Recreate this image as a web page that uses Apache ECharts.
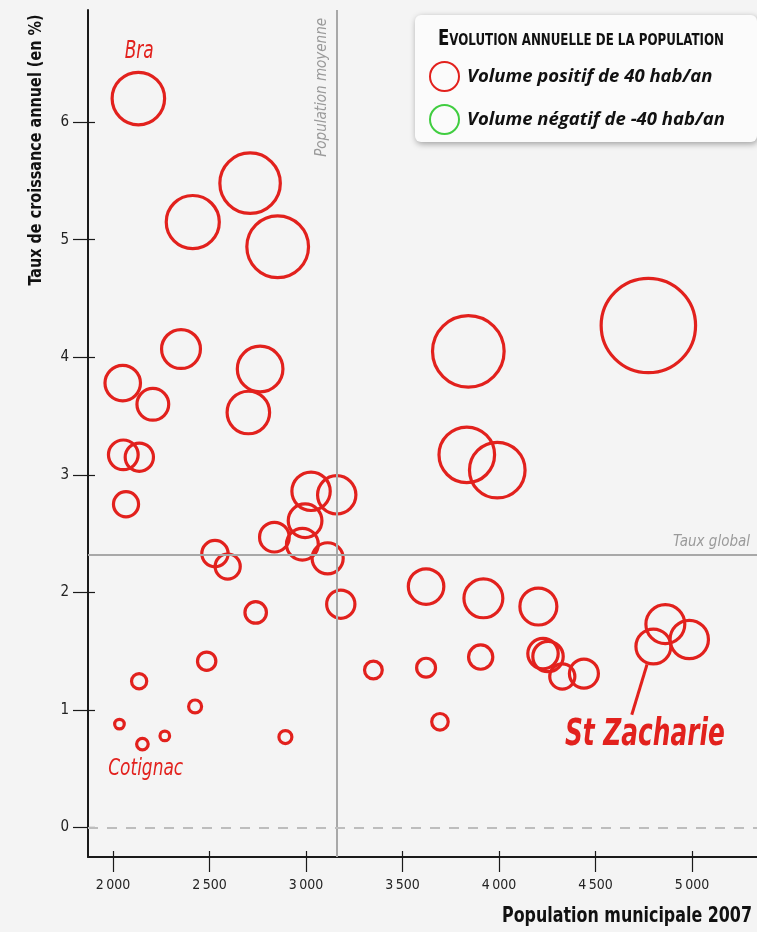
<!DOCTYPE html>
<html><head><meta charset="utf-8">
<script src="https://cdn.jsdelivr.net/npm/echarts@6/dist/echarts.min.js"></script>
<style>html,body{margin:0;padding:0;background:#f4f4f4}#c{width:757px;height:932px}</style>
</head><body><div id="c"></div>
<script>
// Population municipale 2007 (x), taux de croissance annuel en % (y), volume annuel hab/an (bubble)
const population = [2131,2710,2413,2853,2352,2050,2206,2762,2701,2053,2136,2067,3026,3159,2995,2836,2981,3112,2528,2594,2739,3180,3841,4774,3833,3991,3622,3919,4204,4228,4254,4328,4440,3905,3622,3349,3694,4862,4986,4800,2485,2135,2425,2033,2152,2268,2893];
const growthRate = [6.20,5.48,5.15,4.94,4.07,3.78,3.60,3.90,3.53,3.17,3.15,2.75,2.86,2.83,2.61,2.47,2.41,2.29,2.33,2.22,1.83,1.90,4.05,4.27,3.17,3.04,2.05,1.95,1.88,1.48,1.455,1.285,1.31,1.45,1.36,1.34,0.90,1.73,1.60,1.54,1.415,1.245,1.03,0.88,0.71,0.78,0.77];
const volume = [131,174,134,181,72,60,48,99,86,42,38,30,70,70,54,42,48,46,33,30,22,38,244,424,147,147,60,72,65,44,44,30,40,28,17,15,13,72,70,58,16,11,8,4.4,6.4,4.4,8];
const xTicks = [2000,2500,3000,3500,4000,4500,5000];
const yTicks = [0,1,2,3,4,5,6];
const meanPopulation = 3161;
const globalRate = 2.32;
const legendVolume = 40;
const legendNames = ['Volume positif de 40 hab/an','Volume négatif de -40 hab/an'];
const annotationNames = ['Bra','Cotignac','St Zacharie'];
const annotationX = [2135,2169,4756];
const annotationY = [6.60,0.494,0.78];
const pointerFrom = [4767,1.387];
const pointerTo = [4688,0.96];

const RED = '#e2211d', GREEN = '#12c212';
const COND = "'DejaVu Sans Condensed'";
const NARROW = "'Liberation Sans Narrow','DejaVu Sans Condensed',sans-serif";
const X_MIN = 1870, X_MAX = 5337, Y_MIN = -0.25, Y_MAX = 6.953;

const bubbles = population.map((p,i)=>[p, growthRate[i], volume[i]]);
const sizeOf = v => 29*Math.sqrt(v/legendVolume);
const fmt = v => String(v).replace(/(\d)(\d{3})$/,'$1\u2009$2');

const ctx = document.createElement('canvas').getContext('2d');
function textW(text, style, weight, size, fam){ ctx.font = `${style} ${weight} ${size}px ${fam}`; return ctx.measureText(text).width; }
function fit(target, w){ return target / w; }

const titleW = textW('E','normal','bold',21,COND) + textW('VOLUTION ANNUELLE DE LA POPULATION','normal','bold',15,COND);
const yTitle = 'Taux de croissance annuel (en %)';
const xTitle = 'Population municipale 2007';

const chart = echarts.init(document.getElementById('c'));
chart.setOption({
  backgroundColor:'#f4f4f4',
  animation:false,
  grid:{left:88, right:0, top:10, bottom:75, containLabel:false},
  xAxis:[{
    type:'value', min:X_MIN, max:X_MAX,
    axisLine:{show:true, onZero:false, lineStyle:{color:'#1a1a1a', width:2}},
    axisTick:{show:true, length:15, customValues:xTicks, lineStyle:{color:'#1a1a1a', width:1.2}},
    axisLabel:{customValues:xTicks, formatter:fmt, margin:21, color:'#222', fontSize:14, fontFamily:NARROW},
    splitLine:{show:false}
  },{
    type:'value', min:X_MIN, max:X_MAX, position:'bottom',
    axisLine:{show:false, onZero:false}, axisLabel:{show:false}, splitLine:{show:false},
    axisTick:{show:true, inside:true, length:6, customValues:xTicks, lineStyle:{color:'#1a1a1a', width:1.2}}
  }],
  yAxis:[{
    type:'value', min:Y_MIN, max:Y_MAX,
    axisLine:{show:true, onZero:false, lineStyle:{color:'#1a1a1a', width:2}},
    axisTick:{show:true, length:15, customValues:yTicks, lineStyle:{color:'#1a1a1a', width:1.2}},
    axisLabel:{customValues:yTicks, margin:19, color:'#222', fontSize:15, fontFamily:NARROW},
    splitLine:{show:false}
  },{
    type:'value', min:Y_MIN, max:Y_MAX, position:'left',
    axisLine:{show:false, onZero:false}, axisLabel:{show:false}, splitLine:{show:false},
    axisTick:{show:true, inside:true, length:7, customValues:yTicks, lineStyle:{color:'#1a1a1a', width:1.2}}
  }],
  legend:{
    orient:'vertical', left:429, top:61, itemWidth:29, itemHeight:29, itemGap:12,
    padding:0, icon:'circle', z:10, selectedMode:false,
    data:legendNames,
    textStyle:{fontFamily:"'Open Sans'", fontWeight:'bold', fontStyle:'italic', fontSize:18.5, color:'#111', padding:[0,0,0,3]}
  },
  graphic:[
    {type:'rect', z:5, shape:{x:415, y:15, width:342, height:127, r:6},
     style:{fill:'#fbfbfb', shadowBlur:6, shadowOffsetX:1, shadowOffsetY:2, shadowColor:'rgba(0,0,0,0.35)'}},
    {type:'text', z:6, x:438, y:50, scaleX:fit(286, titleW), style:{
      text:'{a|E}{b|VOLUTION ANNUELLE DE LA POPULATION}', verticalAlign:'bottom',
      rich:{a:{fontSize:21, fontWeight:'bold', fontFamily:COND, fill:'#111', verticalAlign:'bottom'},
            b:{fontSize:15, fontWeight:'bold', fontFamily:COND, fill:'#111', verticalAlign:'bottom', padding:[0,0,1,0]}}}},
    {type:'text', x:36, y:150, rotation:Math.PI/2, scaleX:fit(271, textW(yTitle,'normal','bold',18,COND)), style:{
      text:yTitle, align:'center', verticalAlign:'middle',
      fontSize:18, fontWeight:'bold', fontFamily:COND, fill:'#111'}},
    {type:'text', x:752, y:916, scaleX:fit(250, textW(xTitle,'normal','bold',22,COND)), style:{
      text:xTitle, align:'right', verticalAlign:'middle',
      fontSize:22, fontWeight:'bold', fontFamily:COND, fill:'#111'}}
  ],
  series:[{
    name:legendNames[0], type:'scatter', data:bubbles,
    symbol:'circle', symbolSize: v => sizeOf(v[2]),
    itemStyle:{color:'rgba(0,0,0,0)', borderColor:RED, borderWidth:3.2, opacity:1},
    emphasis:{disabled:true}, z:3,
    markLine:{
      silent:true, symbol:'none', animation:false,
      data:[
        {xAxis:meanPopulation, lineStyle:{color:'#a8a8a8', width:2, type:'solid'},
         label:{show:true, formatter:'Population moyenne', position:'insideEndTop', distance:[8,8],
           color:'#9a9a9a', fontStyle:'italic', fontSize:15, fontFamily:NARROW}},
        {yAxis:globalRate, lineStyle:{color:'#a8a8a8', width:2, type:'solid'},
         label:{show:true, formatter:'Taux global', position:'insideEndTop', distance:[7,5],
           color:'#9a9a9a', fontStyle:'italic', fontSize:15, fontFamily:NARROW}},
        {yAxis:0, lineStyle:{color:'#bdbdbd', width:2, type:[10,9]}, label:{show:false}},
        [{coord:pointerFrom, lineStyle:{color:RED, width:3, type:'solid'}, label:{show:false}}, {coord:pointerTo}]
      ]
    }
  },{
    name:legendNames[1], type:'scatter', data:[],
    symbol:'circle', itemStyle:{color:'rgba(0,0,0,0)', borderColor:GREEN, borderWidth:3.2}
  }]
});

// Place town annotations at their data coordinates through the chart's scales
const annStyle = [
  {size:25, weight:'normal', width:29},
  {size:23, weight:'normal', width:75},
  {size:37, weight:'bold', width:160}
];
const annGraphics = annotationNames.map((name,i)=>{
  const p = chart.convertToPixel({gridIndex:0}, [annotationX[i], annotationY[i]]);
  const s = annStyle[i];
  return {type:'text', x:p[0], y:p[1], z:8,
    scaleX: fit(s.width, textW(name,'italic',s.weight,s.size,COND)),
    style:{text:name, align:'center', verticalAlign:'middle', fontSize:s.size, fontWeight:s.weight,
      fontStyle:'italic', fontFamily:COND, fill:RED}};
});
chart.setOption({graphic: chart.getOption().graphic[0].elements.map(e=>({id:e.id})).concat(annGraphics)});
</script></body></html>
